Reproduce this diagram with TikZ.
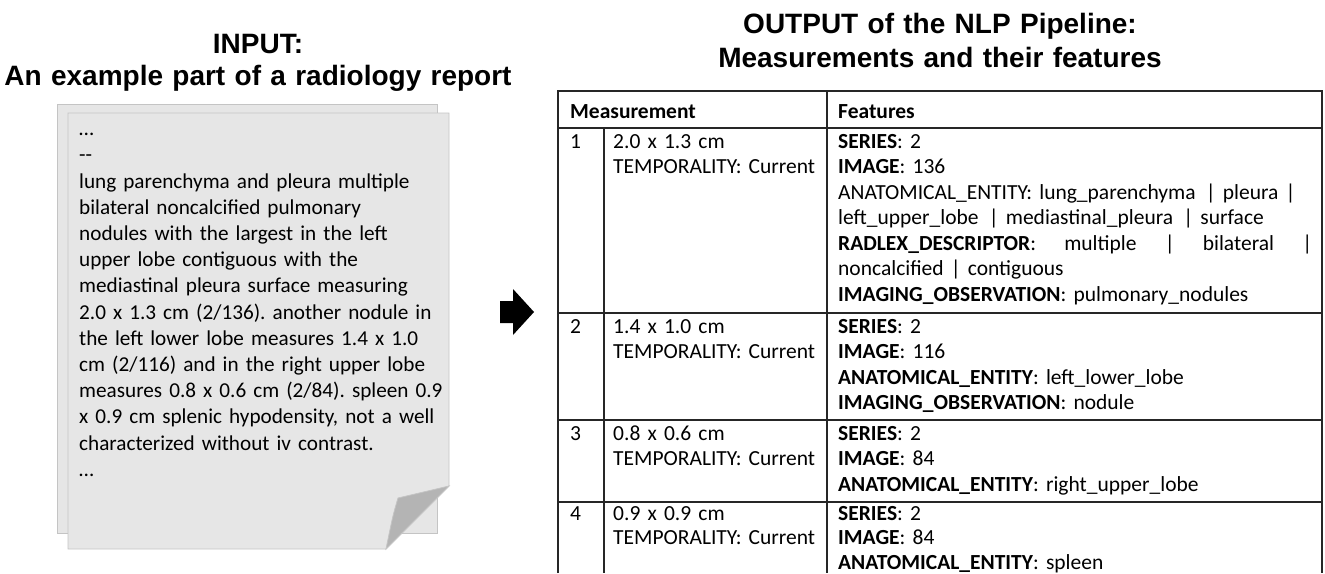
\documentclass[tikz,border=0pt]{standalone}
\usepackage{fontspec}
\setmainfont{Carlito}
\newfontfamily\headfont{Liberation Sans}
\definecolor{paper}{HTML}{E6E6E6}
\definecolor{paperline}{HTML}{C4C4C4}
\definecolor{fold}{HTML}{B4B4B4}
\frenchspacing
\begin{document}
\begin{tikzpicture}
    [x=1pt,y=-1pt,
     heading/.style={font=\headfont\bfseries\fontsize{28}{32}\selectfont,
       text width=560pt,align=center,anchor=base,inner sep=0pt},
     report/.style={font=\fontsize{21.2}{26.2}\selectfont,
       text width=400pt,align=left,anchor=base west,inner sep=0pt},
     cell/.style={font=\fontsize{21.5}{25.5}\selectfont,
       text width=#1,align=left,anchor=base west,inner sep=0pt},
     cell/.default=220pt,
     grid/.style={line width=1.4pt,black!85},
     sheet/.style={fill=paper,draw=paperline,line width=0.8pt}]
    \useasboundingbox (0,0) rectangle (1325,573);

    % titles
    \node[heading] (intitle) at (258,53)
      {INPUT:\\An example part of a radiology report};
    \node[heading,font=\headfont\bfseries\fontsize{28}{34}\selectfont]
      (outtitle) at (940,33)
      {OUTPUT of the NLP Pipeline:\\Measurements and their features};

    % report pages
    \filldraw[sheet] (57,104) rectangle (437,533);
    \filldraw[sheet] (68,113) -- (449,113) -- (449,486) -- (386,549)
      -- (68,549) -- cycle;
    \filldraw[sheet,fill=fold] (449,486) -- (398,498)
      .. controls (393,515) .. (386,549) -- cycle;
    \node[report] (reporttext) at (79,135.6)
      {…\\
       -{}-\\
       lung parenchyma and pleura multiple\\
       bilateral noncalcified pulmonary\\
       nodules with the largest in the left\\
       upper lobe contiguous with the\\
       mediastinal pleura surface measuring\\
       2.0 x 1.3 cm (2/136). another nodule in\\
       the left lower lobe measures 1.4 x 1.0\\
       cm (2/116) and in the right upper lobe\\
       measures 0.8 x 0.6 cm (2/84). spleen 0.9\\
       x 0.9 cm splenic hypodensity, not a well\\
       characterized without iv contrast.\\
       …};

    % block arrow
    \fill (500,301) -- (513,301) -- (513,289) -- (534,312) -- (513,335)
      -- (513,323) -- (500,323) -- cycle;

    % table grid
    \draw[grid] (558,573) -- (558,91) -- (1322,91) -- (1322,573);
    \draw[grid] (827,91) -- (827,573);
    \draw[grid] (604,128) -- (604,573);
    \foreach \y in {128,313,420,502}
      \draw[grid] (558,\y) -- (1322,\y);

    % header
    \node[cell] (hmeas) at (570,118) {\textbf{Measurement}};
    \node[cell] (hfeat) at (838,118) {\textbf{Features}};

    % measurement 1
    \node[cell=30pt] (num1) at (570,148) {1};
    \node[cell] (size1) at (613,148) {2.0 x 1.3 cm\\TEMPORALITY: Current};
    \node[cell=474pt] (feat1) at (838,148)
      {\textbf{SERIES}: 2\\
       \textbf{IMAGE}: 136\\
       ANATOMICAL\_ENTITY: lung\_parenchyma\hspace{3pt} | pleura |\\
       left\_upper\_lobe\hspace{3pt} | mediastinal\_pleura\hspace{3pt} | surface\\
       \leavevmode\hbox to \linewidth{\textbf{RADLEX\_DESCRIPTOR}:\hfill multiple\hfill |\hfill bilateral\hfill |}\\
       noncalcified | contiguous\\
       \textbf{IMAGING\_OBSERVATION}: pulmonary\_nodules};

    % measurement 2
    \node[cell=30pt] (num2) at (570,333) {2};
    \node[cell] (size2) at (613,333) {1.4 x 1.0 cm\\TEMPORALITY: Current};
    \node[cell=474pt] (feat2) at (838,333)
      {\textbf{SERIES}: 2\\
       \textbf{IMAGE}: 116\\
       \textbf{ANATOMICAL\_ENTITY}: left\_lower\_lobe\\
       \textbf{IMAGING\_OBSERVATION}: nodule};

    % measurement 3
    \node[cell=30pt] (num3) at (570,440) {3};
    \node[cell] (size3) at (613,440) {0.8 x 0.6 cm\\TEMPORALITY: Current};
    \node[cell=474pt] (feat3) at (838,440)
      {\textbf{SERIES}: 2\\
       \textbf{IMAGE}: 84\\
       \textbf{ANATOMICAL\_ENTITY}: right\_upper\_lobe};

    % measurement 4
    \node[cell=30pt] (num4) at (570,520) {4};
    \node[cell,font=\fontsize{21.5}{24.8}\selectfont] (size4) at (613,520)
      {0.9 x 0.9 cm\\TEMPORALITY: Current};
    \node[cell=474pt,font=\fontsize{21.5}{24.8}\selectfont] (feat4) at (838,520)
      {\textbf{SERIES}: 2\\
       \textbf{IMAGE}: 84\\
       \textbf{ANATOMICAL\_ENTITY}: spleen};
\end{tikzpicture}
\end{document}
